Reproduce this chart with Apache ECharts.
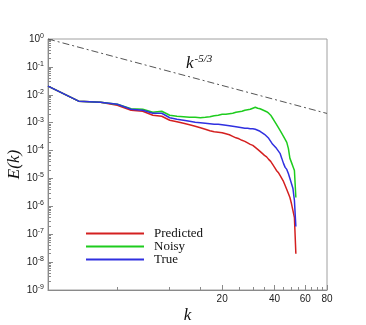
<!DOCTYPE html>
<html>
<head>
<meta charset="utf-8">
<script src="https://cdn.jsdelivr.net/npm/echarts@6/dist/echarts.min.js"></script>
<style>
html, body { margin: 0; padding: 0; background: #fff; }
#chart { width: 366px; height: 325px; }
</style>
</head>
<body>
<div id="chart"></div>
<script>
// wavenumbers k and energy spectra E(k)
var wavenumbers = [2, 3, 4, 5, 6, 7, 8, 9, 10, 11, 12, 13, 14, 15, 16, 17, 18, 19, 20, 21,
  22, 23, 24, 25, 26, 27, 28, 29, 30, 31, 32, 33, 34, 35, 36, 37, 38, 39, 40, 41,
  42, 43, 44, 45, 46, 47, 48, 49, 50, 51, 52, 53];

var predicted = [2.04e-2, 5.89e-3, 5.42e-3, 4.23e-3, 2.79e-3, 2.57e-3, 1.85e-3, 1.70e-3, 1.22e-3, 1.08e-3,
  9.51e-4, 8.40e-4, 7.42e-4, 6.56e-4, 5.79e-4, 5.11e-4, 4.71e-4, 4.52e-4, 4.34e-4, 3.99e-4,
  3.67e-4, 3.24e-4, 2.86e-4, 2.64e-4, 2.33e-4, 2.14e-4, 1.89e-4, 1.67e-4, 1.54e-4, 1.30e-4,
  1.10e-4, 9.36e-5, 7.93e-5, 6.72e-5, 5.93e-5, 4.82e-5, 4.09e-5, 3.19e-5, 2.49e-5, 1.94e-5,
  1.64e-5, 1.28e-5, 1.09e-5, 7.80e-6, 5.60e-6, 4.02e-6, 2.88e-6, 2.07e-6, 1.26e-6, 7.06e-7,
  3.96e-7, 2.0e-8];

var noisy = [2.04e-2, 5.89e-3, 5.42e-3, 4.59e-3, 3.16e-3, 3.03e-3, 2.37e-3, 2.57e-3, 1.85e-3, 1.70e-3,
  1.63e-3, 1.56e-3, 1.56e-3, 1.50e-3, 1.56e-3, 1.63e-3, 1.77e-3, 1.85e-3, 2.00e-3, 2.00e-3,
  2.09e-3, 2.18e-3, 2.37e-3, 2.47e-3, 2.57e-3, 2.79e-3, 2.91e-3, 3.03e-3, 3.30e-3, 3.58e-3,
  3.30e-3, 3.16e-3, 2.91e-3, 2.68e-3, 2.47e-3, 2.18e-3, 1.85e-3, 1.44e-3, 1.12e-3, 8.75e-4,
  6.83e-4, 5.33e-4, 4.16e-4, 3.24e-4, 2.53e-4, 1.97e-4, 1.20e-4, 5.24e-5, 3.77e-5, 2.70e-5,
  1.94e-5, 2.07e-6];

var trueSpec = [2.04e-2, 5.89e-3, 5.42e-3, 4.59e-3, 3.03e-3, 2.79e-3, 2.18e-3, 2.18e-3, 1.50e-3, 1.33e-3,
  1.22e-3, 1.12e-3, 1.03e-3, 9.91e-4, 9.51e-4, 9.12e-4, 8.75e-4, 8.75e-4, 8.40e-4, 8.06e-4,
  7.73e-4, 7.42e-4, 7.12e-4, 6.83e-4, 6.56e-4, 6.29e-4, 6.29e-4, 6.04e-4, 6.04e-4, 5.79e-4,
  5.33e-4, 4.91e-4, 4.34e-4, 3.83e-4, 3.24e-4, 2.75e-4, 2.14e-4, 1.67e-4, 1.42e-4, 1.20e-4,
  1.02e-4, 7.93e-5, 5.24e-5, 3.47e-5, 2.49e-5, 2.11e-5, 1.51e-5, 1.00e-5, 6.61e-6, 4.37e-6,
  1.62e-6, 1.88e-7];

// k^-5/3 reference line end points
var slopeLine = [[2, 1], [80, 2.14e-3]];

var xLabelValues = [20, 40, 60, 80];
var xMinorValues = [5, 10, 15, 25, 30, 35, 45, 50, 55, 65, 70, 75];
var yDecades = [1, 1e-1, 1e-2, 1e-3, 1e-4, 1e-5, 1e-6, 1e-7, 1e-8, 1e-9];
var yMinorValues = [];
yDecades.slice(1).forEach(function (d) {
  for (var m = 2; m <= 9; m++) yMinorValues.push(d * m);
});

function pairs(ys) {
  return wavenumbers.map(function (k, i) { return [k, ys[i]]; });
}

var chart = echarts.init(document.getElementById('chart'));

var axisGray = '#8a8a8a';
var serif = '"Liberation Serif", "DejaVu Serif", serif';
var sans = '"Liberation Sans", Arial, sans-serif';

var option = {
  animation: false,
  grid: {
    left: 48, right: 39, top: 39, bottom: 35,
    containLabel: false, outerBoundsMode: 'none',
    show: true, borderColor: '#a0a0a0', borderWidth: 1
  },
  legend: {
    orient: 'vertical',
    left: 85, top: 227, padding: 0,
    itemWidth: 58, itemHeight: 13, itemGap: 0,
    itemStyle: { opacity: 0 },
    textStyle: { fontFamily: serif, fontSize: 13, lineHeight: 13, color: '#111', padding: [0, 0, 0, 5] },
    data: ['Predicted', 'Noisy', 'True']
  },
  xAxis: [{
    type: 'log', logBase: 10, min: 2, max: 80,
    name: 'k', nameLocation: 'middle', nameGap: 17, nameMoveOverlap: false,
    nameTextStyle: { fontFamily: serif, fontStyle: 'italic', fontSize: 17, color: '#111' },
    axisLine: { lineStyle: { color: axisGray } },
    axisTick: { inside: true, length: 5, customValues: xLabelValues, lineStyle: { color: axisGray } },
    axisLabel: { customValues: xLabelValues, fontSize: 10, color: '#222', margin: 4, fontFamily: sans },
    splitLine: { show: false }
  }, {
    type: 'log', logBase: 10, min: 2, max: 80, position: 'bottom', offset: 0,
    axisLine: { show: false },
    axisTick: { inside: true, length: 3, customValues: xMinorValues, lineStyle: { color: axisGray } },
    axisLabel: { show: false },
    splitLine: { show: false }
  }],
  yAxis: [{
    type: 'log', logBase: 10, min: 1e-9, max: 1,
    name: 'E(k)', nameLocation: 'middle', nameGap: 25, nameRotate: 90, nameMoveOverlap: false,
    nameTextStyle: { fontFamily: serif, fontStyle: 'italic', fontSize: 17, color: '#111' },
    axisLine: { lineStyle: { color: axisGray } },
    axisTick: { inside: true, length: 5, customValues: yDecades, lineStyle: { color: axisGray } },
    axisLabel: {
      customValues: yDecades, margin: 4,
      formatter: function (v) {
        return '{b|10}{s|' + Math.round(Math.log10(v)) + '}';
      },
      rich: {
        b: { fontSize: 10, color: '#222', fontFamily: sans },
        s: { fontSize: 7, color: '#222', verticalAlign: 'top', padding: [0, 0, 6, 0], fontFamily: sans }
      }
    },
    splitLine: { show: false }
  }, {
    type: 'log', logBase: 10, min: 1e-9, max: 1, position: 'left', offset: 0,
    axisLine: { show: false },
    axisTick: { inside: true, length: 3, customValues: yMinorValues, lineStyle: { color: axisGray } },
    axisLabel: { show: false },
    splitLine: { show: false }
  }],
  graphic: [{
    type: 'text', left: 186, top: 54,
    style: {
      text: '{k|k}{e|-5/3}',
      rich: {
        k: { fontFamily: serif, fontStyle: 'italic', fontSize: 17, fill: '#111' },
        e: { fontFamily: serif, fontStyle: 'italic', fontSize: 11, fill: '#111', padding: [0, 0, 9, 1] }
      }
    }
  }],
  series: [{
    name: 'k53', type: 'line', data: slopeLine, symbol: 'none', silent: true,
    lineStyle: { color: '#555', width: 1, type: [7, 3, 2, 3] }
  }, {
    name: 'Predicted', type: 'line', data: pairs(predicted), symbol: 'none',
    lineStyle: { color: '#d42020', width: 1.5 }, itemStyle: { color: '#d42020' }
  }, {
    name: 'Noisy', type: 'line', data: pairs(noisy), symbol: 'none',
    lineStyle: { color: '#1ecc1e', width: 1.5 }, itemStyle: { color: '#1ecc1e' }
  }, {
    name: 'True', type: 'line', data: pairs(trueSpec), symbol: 'none',
    lineStyle: { color: '#3030e0', width: 1.5 }, itemStyle: { color: '#3030e0' }
  }]
};

chart.setOption(option);
</script>
</body>
</html>
